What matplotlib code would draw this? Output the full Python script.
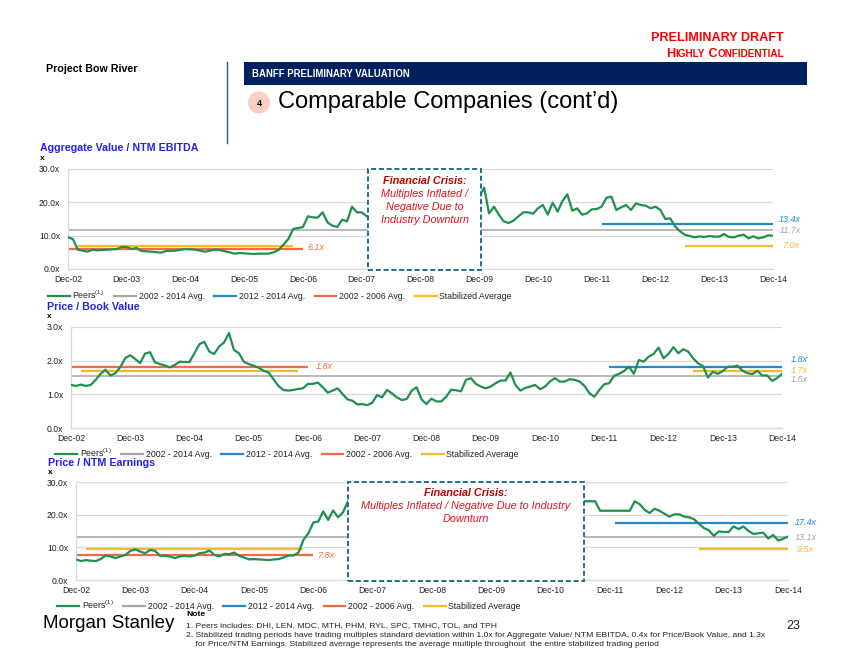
import matplotlib
matplotlib.use('Agg')
import matplotlib.pyplot as plt
from matplotlib import font_manager
from matplotlib.lines import Line2D
from matplotlib.patches import Rectangle, Ellipse
import numpy as np

plt.rcParams['font.family'] = ['Liberation Sans', 'DejaVu Sans']
plt.rcParams['mathtext.fontset'] = 'custom'
plt.rcParams['mathtext.rm'] = 'Liberation Sans'

W, H = 854, 660

# x axis = months since Dec-02
year_ticks = list(range(0, 145, 12))
year_labels = ['Dec-02', 'Dec-03', 'Dec-04', 'Dec-05', 'Dec-06', 'Dec-07', 'Dec-08',
               'Dec-09', 'Dec-10', 'Dec-11', 'Dec-12', 'Dec-13', 'Dec-14']

# Aggregate Value / NTM EBITDA
aev_months = [0, 1, 2, 3, 4, 5, 6, 8, 10, 11, 12, 13, 14, 15, 17, 19, 20, 22, 24, 26, 28, 30, 31,
              33, 34, 35, 36, 38, 39, 41, 42, 43, 44, 45, 46, 48, 49, 50, 51, 52, 53, 54, 55, 56,
              57, 58, 59, 60, 61,
              84, 85, 86, 87, 88, 89, 90, 91, 92, 93, 94, 95, 96, 97, 98, 99, 100, 101, 102, 103,
              104, 105, 106, 107, 108, 109, 110, 111, 112, 113, 114, 115, 116, 117, 118, 119, 120,
              121, 122, 123, 124, 125, 126, 128, 129, 130, 131, 132, 133, 134, 135, 136, 137, 138,
              139, 140, 141, 142, 143, 144]
aev_values = [9.5, 9.0, 5.8, 5.5, 5.2, 5.8, 5.6, 5.8, 6.0, 6.6, 6.6, 6.0, 6.3, 5.4, 5.2, 4.9, 5.4,
              5.5, 6.0, 5.8, 5.2, 5.8, 5.7, 5.0, 4.6, 4.8, 4.7, 4.5, 4.6, 4.6, 5.0, 5.7, 7.3, 9.0,
              12.0, 12.6, 15.8, 15.5, 15.4, 17.0, 14.0, 13.0, 12.6, 14.8, 14.3, 18.7, 17.0, 17.0,
              15.8,
              21.7, 24.4, 16.7, 18.7, 16.3, 14.3, 13.8, 14.5, 15.8, 17.0, 17.0, 16.6, 18.2, 19.2,
              16.3, 19.9, 17.2, 20.4, 22.4, 17.5, 18.2, 16.3, 16.7, 17.9, 18.0, 18.7, 21.4, 21.7,
              17.7, 18.5, 19.2, 17.7, 19.7, 19.2, 19.0, 18.2, 18.7, 17.7, 15.0, 15.2, 12.8, 11.3,
              10.3, 9.5, 9.8, 9.6, 9.9, 9.7, 9.7, 10.5, 9.6, 9.5, 10.0, 10.3, 9.2, 9.8, 9.2, 9.5,
              10.1, 10.0]
aev_avgs = [11.7, 13.4, 6.1, 7.0]   # 2002-2014, 2012-2014, 2002-2006, stabilized

# Price / Book Value (monthly)
pb_values = [1.28, 1.25, 1.29, 1.25, 1.28, 1.43, 1.61, 1.73, 1.56, 1.63, 1.81, 2.08, 2.16, 2.05,
             1.93, 2.21, 2.25, 1.95, 1.90, 1.86, 1.80, 1.87, 1.97, 1.96, 1.96, 2.22, 2.49, 2.56,
             2.27, 2.20, 2.42, 2.54, 2.82, 2.32, 2.22, 1.97, 1.90, 1.85, 1.79, 1.70, 1.65, 1.45,
             1.25, 1.13, 1.11, 1.13, 1.16, 1.18, 1.31, 1.31, 1.35, 1.21, 1.05, 1.11, 1.18, 1.01,
             0.85, 0.81, 0.70, 0.71, 0.68, 0.75, 0.98, 0.91, 1.13, 1.03, 0.91, 0.83, 0.86, 1.11,
             1.21, 0.85, 0.71, 0.87, 0.79, 0.79, 0.93, 1.14, 1.12, 1.09, 1.43, 1.48, 1.31, 1.23,
             1.18, 1.23, 1.33, 1.41, 1.41, 1.65, 1.28, 1.11, 1.19, 1.23, 1.28, 1.15, 1.23, 1.38,
             1.48, 1.38, 1.38, 1.45, 1.43, 1.38, 1.25, 1.03, 0.93, 1.13, 1.30, 1.33, 1.55, 1.61,
             1.69, 1.82, 1.61, 2.02, 1.97, 2.12, 2.20, 2.39, 2.07, 2.20, 2.40, 2.22, 2.34, 2.27,
             2.07, 1.92, 1.84, 1.50, 1.67, 1.61, 1.69, 1.82, 1.82, 1.85, 1.70, 1.63, 1.60, 1.70,
             1.56, 1.56, 1.40, 1.48, 1.61]
pb_months = list(range(len(pb_values)))
pb_avgs = [1.53, 1.82, 1.81, 1.69]

# Price / NTM Earnings
pe_months = list(range(56)) + [103, 105, 106, 112, 113, 114, 115, 116, 117, 118, 119, 120, 121,
                               122, 123, 124, 125, 126, 127, 128, 129, 130, 131, 132, 133, 134,
                               135, 136, 137, 138, 139, 140, 141, 142, 143, 144]
pe_values = [6.3, 5.8, 6.1, 5.9, 5.8, 6.4, 7.5, 7.2, 6.7, 7.2, 7.7, 8.9, 9.4, 8.7, 8.2, 9.2, 8.9,
             7.4, 7.4, 7.2, 6.7, 7.2, 7.4, 7.2, 7.5, 8.2, 8.4, 9.0, 7.7, 7.2, 8.0, 7.9, 8.4, 7.4,
             6.9, 6.3, 6.4, 6.3, 6.2, 6.1, 6.3, 6.4, 6.9, 7.5, 7.5, 8.4, 12.3, 14.3, 17.6, 17.9,
             21.0, 18.4, 21.3, 19.2, 20.7, 24.1,
             24.1, 24.1, 21.2, 21.2, 24.1, 23.2, 21.5, 20.5, 21.8, 21.2, 20.3, 19.4, 20.1, 20.1,
             19.4, 19.2, 18.6, 17.2, 15.9, 15.2, 13.5, 14.9, 14.7, 14.7, 16.4, 15.6, 16.4, 15.0,
             14.1, 14.3, 14.5, 12.7, 13.8, 12.1, 12.6, 13.3]
pe_avgs = [13.1, 17.4, 7.8, 9.5]

full_span = (0, 144)
recent_span = (109, 144)
early_span = (0, 48)
stable_spans = [(2, 46), (126, 144)]

legend_labels = [r'Peers$^{\mathrm{(1)}}$', '2002 - 2014 Avg.', '2012 - 2014 Avg.',
                 '2002 - 2006 Avg.', 'Stabilized Average']

GREEN = '#1E9050'
GREY = '#A6A6A6'
BLUE = '#1F8AD2'
RED = '#F26A44'
YELLOW = '#F9B92B'
GRID = '#D9D9D9'
TITLE_BLUE = '#2323E8'
CRISIS_DARK = '#C00000'
CRISIS_RED = '#E0141E'
BOX_EDGE = '#236D8C'

fig = plt.figure(figsize=(W / 100, H / 100), dpi=100)


def fx(px):
    return px / W


def fy(py):
    return 1 - py / H


def axes_px(left, top, right, bottom):
    return fig.add_axes([fx(left), fy(bottom), (right - left) / W, (bottom - top) / H])


def panel(ax, months, values, avgs, ymax, ystep, right_ys, early_xy, legend_xy,
          crisis=None, crisis_lines=None, crisis_y=None, crisis_dy=None):
    avg_all, avg_recent, avg_early, stable = avgs
    ax.set_xlim(0, 144)
    ax.set_ylim(0, ymax)
    yt = np.arange(0, ymax + ystep / 2, ystep)
    ax.set_yticks(yt, [f'{v:.1f}x' for v in yt])
    ax.set_xticks(year_ticks, year_labels)
    ax.tick_params(length=0, labelsize=6.2, labelcolor='#222222')
    ax.tick_params(axis='y', pad=5.5)
    ax.tick_params(axis='x', pad=4.5)
    ax.grid(axis='y', color=GRID, lw=0.9)
    ax.set_axisbelow(True)
    for s in ['top', 'right']:
        ax.spines[s].set_visible(False)
    for s in ['left', 'bottom']:
        ax.spines[s].set_color(GRID)
        ax.spines[s].set_linewidth(0.9)

    ax.hlines(avg_all, *full_span, color=GREY, lw=1.1, zorder=2)
    ax.hlines(avg_recent, *recent_span, color=BLUE, lw=1.6, zorder=2)
    ax.hlines(avg_early, *early_span, color=RED, lw=1.6, zorder=2)
    for s in stable_spans:
        ax.hlines(stable, *s, color=YELLOW, lw=1.6, zorder=2)
    ax.plot(months, values, color=GREEN, lw=1.6, zorder=4)

    # value labels
    for v, c, y in [(avg_recent, BLUE, right_ys[0]), (avg_all, GREY, right_ys[1]),
                    (stable, YELLOW, right_ys[2])]:
        ax.text(147.5, y, f'{v:.1f}x', ha='center', va='center', style='italic',
                color=c, fontsize=6.5)
    ax.text(early_xy[0], early_xy[1], f'{avg_early:.1f}x', ha='left', va='center',
            style='italic', color=RED, fontsize=6.5)

    if crisis is not None:
        x0, x1 = crisis
        ax.add_patch(Rectangle((x0, -0.012 * ymax), x1 - x0, 1.012 * ymax, facecolor='white',
                               edgecolor=BOX_EDGE, lw=1.4, ls=(0, (2.6, 1.4)), zorder=5,
                               clip_on=False))
        cx = (x0 + x1) / 2
        for i, line in enumerate(crisis_lines):
            ax.text(cx, crisis_y - i * crisis_dy, line, ha='center', va='center',
                    style='italic', fontsize=7.8, zorder=6,
                    weight='bold' if i == 0 else 'normal',
                    color=CRISIS_DARK if i == 0 else CRISIS_RED)

    handles = [Line2D([], [], color=c, lw=1.6) for c in [GREEN, GREY, BLUE, RED, YELLOW]]
    ax.legend(handles, legend_labels, loc='center left',
              bbox_to_anchor=(fx(legend_xy[0]), fy(legend_xy[1])),
              bbox_transform=fig.transFigure, ncol=5, frameon=False, fontsize=6.3,
              handlelength=2.5, handletextpad=0.3, columnspacing=1.1, borderpad=0,
              borderaxespad=0, labelcolor='#222222')


# ---- header ----
fig.text(fx(784), fy(38), 'PRELIMINARY DRAFT', ha='right', va='center', color='#FF0000',
         fontsize=9.1, weight='bold')

renderer = fig.canvas.get_renderer()
sc_parts = [('H', 9.1), ('IGHLY', 7.2), (' C', 9.1), ('ONFIDENTIAL', 7.2)]
sc_texts = [fig.text(0, fy(53), s, va='baseline', color='#FF0000', fontsize=fs,
                     weight='bold') for s, fs in sc_parts]
sc_w = [t.get_window_extent(renderer).width for t in sc_texts]
xpos = 784 - sum(sc_w)
for t, w in zip(sc_texts, sc_w):
    t.set_x(fx(xpos))
    t.set_y(fy(57))
    xpos += w

fig.text(fx(46), fy(69), 'Project Bow River', ha='left', va='center', fontsize=7.7,
         weight='bold', color='black')
fig.add_artist(Line2D([fx(227), fx(227)], [fy(62), fy(143)], color='#2F4F9F', lw=1.0))
fig.add_artist(Rectangle((fx(244), fy(85)), (807 - 244) / W, 23 / H, facecolor='#002060',
                         edgecolor='none'))
fig.text(fx(252), fy(74), 'BANFF PRELIMINARY VALUATION', ha='left', va='center',
         color='white', fontsize=6.9, weight='bold')
fig.add_artist(Ellipse((fx(259), fy(102.5)), 22 / W, 22 / H, facecolor='#F7D0C2',
                       edgecolor='none'))
fig.text(fx(259), fy(103), '4', ha='center', va='center', fontsize=6.5, weight='bold')
fig.text(fx(278), fy(102), 'Comparable Companies (cont\u2019d)', ha='left', va='center',
         fontsize=17, color='black')

# ---- charts ----
ax1 = axes_px(68, 169, 773, 269)
panel(ax1, aev_months, aev_values, aev_avgs, 30, 10, [14.75, 11.6, 7.2], (49, 6.3),
      (48, 295), crisis=(61.3, 84.4),
      crisis_lines=['Financial Crisis:', 'Multiples Inflated /', 'Negative Due to',
                    'Industry Downturn'],
      crisis_y=26.4, crisis_dy=3.9)
fig.text(fx(40), fy(148), 'Aggregate Value / NTM EBITDA', ha='left', va='center',
         color=TITLE_BLUE, fontsize=7.7, weight='bold')
fig.text(fx(40), fy(158), 'x', ha='left', va='center', fontsize=6, weight='bold')

ax2 = axes_px(71, 327, 782, 428)
panel(ax2, pb_months, pb_values, pb_avgs, 3, 1, [2.02, 1.43, 1.72], (49.5, 1.82), (55, 453))
fig.text(fx(47), fy(307), 'Price / Book Value', ha='left', va='center',
         color=TITLE_BLUE, fontsize=7.7, weight='bold')
fig.text(fx(47), fy(316), 'x', ha='left', va='center', fontsize=6, weight='bold')

ax3 = axes_px(76, 482, 788, 580)
panel(ax3, pe_months, pe_values, pe_avgs, 30, 10, [17.7, 13.0, 9.2], (48.7, 7.4),
      (57, 605), crisis=(55.1, 102.7),
      crisis_lines=['Financial Crisis:', 'Multiples Inflated / Negative Due to Industry',
                    'Downturn'],
      crisis_y=26.6, crisis_dy=3.95)
fig.text(fx(48), fy(463), 'Price / NTM Earnings', ha='left', va='center',
         color=TITLE_BLUE, fontsize=7.7, weight='bold')
fig.text(fx(48), fy(472), 'x', ha='left', va='center', fontsize=6, weight='bold')

# ---- footer ----
font_names = {f.name for f in font_manager.fontManager.ttflist}
if 'Liberation Sans Narrow' in font_names:
    logo_font, logo_size = 'Liberation Sans Narrow', 16.5
else:
    logo_font, logo_size = 'Liberation Sans', 13.5
fig.text(fx(43), fy(623), 'Morgan Stanley', ha='left', va='center', fontsize=logo_size,
         family=logo_font, color='black')
fig.text(fx(186), fy(615), 'Note', ha='left', va='center', fontsize=6.1, weight='bold')
notes = ['1. Peers includes: DHI, LEN, MDC, MTH, PHM, RYL, SPC, TMHC, TOL, and TPH',
         '2. Stabilized trading periods have trading multiples standard deviation within 1.0x '
         'for Aggregate Value/ NTM EBITDA, 0.4x for Price/Book Value, and 1.3x',
         '    for Price/NTM Earnings. Stabilized average represents the average multiple '
         'throughout  the entire stabilized trading period']
for i, line in enumerate(notes):
    fig.text(fx(186), fy(626 + i * 9.5), line, ha='left', va='center', fontsize=6.1,
             color='#222222')
fig.text(fx(793), fy(626), '23', ha='center', va='center', fontsize=9, color='#222222')

fig.savefig('out.png', dpi=100)
